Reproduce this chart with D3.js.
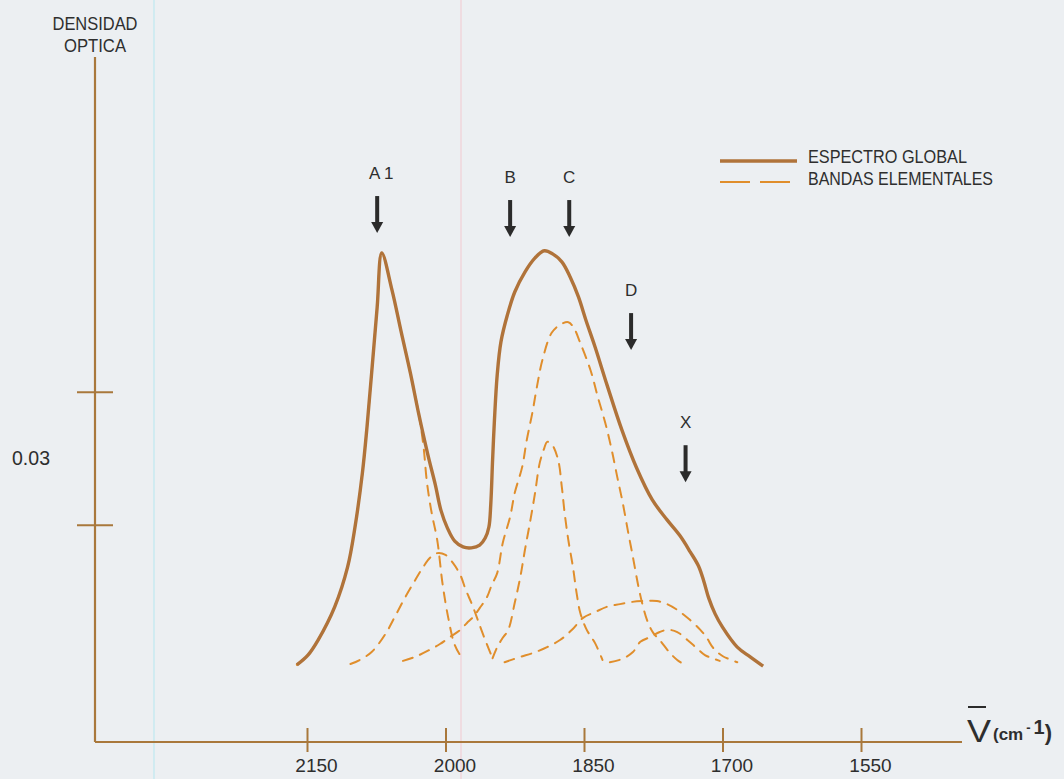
<!DOCTYPE html>
<html>
<head>
<meta charset="utf-8">
<script src="https://cdn.jsdelivr.net/npm/d3@7"></script>
<style>
  html, body { margin: 0; padding: 0; background: #eceff2; }
  svg { display: block; }
  text { font-family: 'Liberation Sans', Arial, sans-serif; fill: #2e2e2e; }
</style>
</head>
<body>
<svg id="chart" width="1064" height="779"></svg>
<script>
const AXIS = '#a9783c';
const GLOBAL = '#b0733a';
const BAND = '#e08e2c';
const INK = '#2b2b2b';

// x axis: wavenumber (cm-1); y axis: two unlabelled ticks 0.03 apart
const xTicks = [2150, 2000, 1850, 1700, 1550];
const yTicks = [0.049, 0.079];

// [wavenumber, optical density]
const globalSpectrum = [
  [2161, 0.0174], [2149, 0.0196], [2138, 0.0230], [2120, 0.0305], [2106, 0.0395],
  [2098, 0.0485], [2090, 0.0607], [2085, 0.0711], [2080, 0.0832], [2074, 0.0981],
  [2069, 0.1103], [2058, 0.1020], [2048, 0.0925], [2038, 0.0832], [2029, 0.0740],
  [2019, 0.0647], [2011, 0.0580], [2005, 0.0523], [1998, 0.0483], [1990, 0.0453],
  [1981, 0.0440], [1972, 0.0438], [1963, 0.0444], [1957, 0.0460], [1953, 0.0485],
  [1951, 0.0535], [1949, 0.0636], [1947, 0.0726], [1944, 0.0828], [1940, 0.0902],
  [1933, 0.0963], [1925, 0.1015], [1914, 0.1060], [1903, 0.1092], [1893, 0.1108],
  [1884, 0.1101], [1874, 0.1083], [1865, 0.1049], [1856, 0.1004], [1848, 0.0952],
  [1838, 0.0891], [1825, 0.0805], [1809, 0.0704], [1793, 0.0618], [1776, 0.0546],
  [1760, 0.0501], [1746, 0.0465], [1735, 0.0429], [1726, 0.0397], [1720, 0.0361],
  [1715, 0.0325], [1708, 0.0289], [1700, 0.0259], [1684, 0.0214], [1670, 0.0192],
  [1656, 0.0171],
];

const bandA1 = [
  [2161, 0.0174], [2149, 0.0196], [2138, 0.0230], [2120, 0.0305], [2106, 0.0395],
  [2098, 0.0485], [2090, 0.0607], [2085, 0.0711], [2080, 0.0832], [2074, 0.0981],
  [2069, 0.1103], [2058, 0.1020], [2048, 0.0925], [2038, 0.0832], [2029, 0.0740],
  [2024, 0.0670], [2020, 0.0584], [2015, 0.0517], [2009, 0.0456], [2003, 0.0354],
  [1997, 0.0280], [1990, 0.0219], [1981, 0.0185],
];

const bandSmall = [
  [2103, 0.0176], [2093, 0.0185], [2080, 0.0203], [2065, 0.0244], [2054, 0.0286],
  [2044, 0.0325], [2034, 0.0361], [2025, 0.0392], [2017, 0.0415], [2009, 0.0426],
  [2000, 0.0422], [1992, 0.0404], [1984, 0.0377], [1978, 0.0343], [1971, 0.0309],
  [1965, 0.0275], [1957, 0.0230], [1949, 0.0189],
];

const bandB = [
  [1949, 0.0189], [1944, 0.0214], [1938, 0.0235], [1932, 0.0253], [1925, 0.0314],
  [1919, 0.0372], [1914, 0.0433], [1908, 0.0501], [1903, 0.0562], [1898, 0.0629],
  [1893, 0.0663], [1890, 0.0677], [1885, 0.0672], [1878, 0.0636], [1874, 0.0575],
  [1871, 0.0517], [1867, 0.0456], [1862, 0.0395], [1858, 0.0336], [1854, 0.0291],
  [1847, 0.0253], [1838, 0.0223], [1830, 0.0185],
];

const bandC = [
  [2046, 0.0183], [2033, 0.0192], [2017, 0.0208], [2006, 0.0221], [1995, 0.0237],
  [1984, 0.0253], [1977, 0.0268], [1970, 0.0282], [1963, 0.0302], [1955, 0.0327],
  [1950, 0.0354], [1944, 0.0381], [1938, 0.0449], [1930, 0.0508], [1925, 0.0562],
  [1917, 0.0620], [1912, 0.0681], [1906, 0.0742], [1901, 0.0801], [1895, 0.0862],
  [1885, 0.0923], [1876, 0.0941], [1867, 0.0947], [1861, 0.0934], [1854, 0.0900],
  [1843, 0.0839], [1835, 0.0778], [1827, 0.0720], [1820, 0.0659], [1814, 0.0598],
  [1808, 0.0539], [1802, 0.0471], [1797, 0.0417], [1791, 0.0350], [1786, 0.0305],
  [1781, 0.0271], [1775, 0.0246], [1768, 0.0230], [1757, 0.0201], [1749, 0.0185],
  [1744, 0.0178],
];

const bandD = [
  [1936, 0.0180], [1919, 0.0192], [1905, 0.0201], [1890, 0.0214], [1876, 0.0230],
  [1863, 0.0253], [1851, 0.0280], [1838, 0.0293], [1825, 0.0305], [1811, 0.0311],
  [1798, 0.0316], [1784, 0.0318], [1771, 0.0318], [1760, 0.0311], [1749, 0.0298],
  [1735, 0.0275], [1724, 0.0253], [1717, 0.0235], [1710, 0.0212], [1700, 0.0194],
  [1684, 0.0180],
];

const bandX = [
  [1822, 0.0180], [1809, 0.0187], [1797, 0.0203], [1789, 0.0226], [1778, 0.0237],
  [1768, 0.0248], [1759, 0.0253], [1749, 0.0248], [1738, 0.0230], [1728, 0.0212],
  [1719, 0.0196], [1711, 0.0189], [1703, 0.0183],
];

const bands = [bandA1, bandSmall, bandB, bandC, bandD, bandX];

const peakLabels = ['A 1', 'B', 'C', 'D', 'X'];
const peakWavenumbers = [2074, 1930, 1866, 1799, 1740];
const peakArrowTips = [0.1148, 0.1139, 0.1139, 0.0884, 0.0586];

const legendLabels = ['ESPECTRO GLOBAL', 'BANDAS ELEMENTALES'];

const svg = d3.select('#chart');

const axisX0 = 95;
const axisX1 = 962;
const axisYTop = 57;

const xScale = d3.scaleLinear()
  .domain([2150, 1550])
  .range([307, 861]);

const yScale = d3.scaleLinear()
  .domain([0, 0.03])
  .range([742, 609]);

const baseY = yScale(0);

// scan artefacts: faint coloured vertical streaks
svg.append('line')
  .attr('x1', 154).attr('x2', 154).attr('y1', 0).attr('y2', 779)
  .attr('stroke', '#bfe8f0').attr('stroke-width', 1.2);
svg.append('line')
  .attr('x1', 461).attr('x2', 461).attr('y1', 0).attr('y2', 779)
  .attr('stroke', '#f2cfd6').attr('stroke-width', 1.2);

// axis lines
svg.append('line')
  .attr('x1', axisX0).attr('x2', axisX1)
  .attr('y1', baseY).attr('y2', baseY)
  .attr('stroke', AXIS).attr('stroke-width', 2.2);
svg.append('line')
  .attr('x1', axisX0).attr('x2', axisX0)
  .attr('y1', axisYTop).attr('y2', baseY)
  .attr('stroke', AXIS).attr('stroke-width', 2.2);

// x ticks + labels
const xAxisEl = svg.append('g')
  .attr('transform', `translate(0, ${baseY})`)
  .call(d3.axisBottom(xScale).tickValues(xTicks).tickFormat(d3.format('d')));
xAxisEl.attr('font-family', null).attr('font-size', null);
xAxisEl.select('.domain').remove();
xAxisEl.selectAll('.tick line')
  .attr('y1', -14).attr('y2', 10)
  .attr('stroke', AXIS).attr('stroke-width', 2);
xAxisEl.selectAll('.tick text')
  .attr('y', 30).attr('dy', null).attr('x', 9)
  .attr('fill', null)
  .style('font-size', '19px');

// y ticks (no labels)
const yAxisEl = svg.append('g')
  .attr('transform', `translate(${axisX0}, 0)`)
  .call(d3.axisLeft(yScale).tickValues(yTicks).tickFormat(''));
yAxisEl.select('.domain').remove();
yAxisEl.selectAll('.tick line')
  .attr('x1', -18).attr('x2', 18)
  .attr('stroke', AXIS).attr('stroke-width', 2);

// 0.03 between the two ticks
svg.append('text')
  .attr('x', 12)
  .attr('y', (yScale(yTicks[0]) + yScale(yTicks[1])) / 2 + 7)
  .style('font-size', '20px')
  .attr('textLength', 38)
  .attr('lengthAdjust', 'spacingAndGlyphs')
  .text('0.03');

// y title
svg.append('text')
  .attr('x', axisX0).attr('y', 30)
  .attr('text-anchor', 'middle')
  .style('font-size', '18px')
  .attr('textLength', 85)
  .attr('lengthAdjust', 'spacingAndGlyphs')
  .text('DENSIDAD');
svg.append('text')
  .attr('x', axisX0).attr('y', 52)
  .attr('text-anchor', 'middle')
  .style('font-size', '18px')
  .attr('textLength', 62)
  .attr('lengthAdjust', 'spacingAndGlyphs')
  .text('OPTICA');

// x title: wavenumber symbol with bar, (cm-1)
const xTitle = svg.append('g');
xTitle.append('text')
  .attr('x', 967).attr('y', 742)
  .style('font-size', '32px')
  .attr('textLength', 24)
  .attr('lengthAdjust', 'spacingAndGlyphs')
  .text('V');
xTitle.append('line')
  .attr('x1', 968).attr('x2', 986).attr('y1', 707).attr('y2', 707)
  .attr('stroke', INK).attr('stroke-width', 2);
const unit = xTitle.append('text')
  .attr('x', 993).attr('y', 740)
  .style('font-size', '17px')
  .style('font-weight', 'bold');
unit.append('tspan').text('(cm');
unit.append('tspan').attr('dx', 3).attr('dy', -8).style('font-size', '13px').text('-');
unit.append('tspan').attr('dx', 3).attr('dy', 2).style('font-size', '20px').text('1');
unit.append('tspan').attr('dy', 6).style('font-size', '22px').text(')');

// curves
const line = d3.line()
  .x(d => xScale(d[0]))
  .y(d => yScale(d[1]))
  .curve(d3.curveCatmullRom.alpha(0.5));

svg.append('g')
  .selectAll('path')
  .data(bands)
  .enter()
  .append('path')
  .attr('d', line)
  .attr('fill', 'none')
  .attr('stroke', BAND)
  .attr('stroke-width', 2)
  .attr('stroke-dasharray', '10,8')
  .attr('stroke-linecap', 'round');

svg.append('path')
  .datum(globalSpectrum)
  .attr('d', line)
  .attr('fill', 'none')
  .attr('stroke', GLOBAL)
  .attr('stroke-width', 3.4)
  .attr('stroke-linejoin', 'round');

// peak arrows
const arrows = svg.selectAll('.peak')
  .data(peakLabels)
  .enter()
  .append('g')
  .attr('class', 'peak');

arrows.append('line')
  .attr('x1', (d, i) => xScale(peakWavenumbers[i]))
  .attr('x2', (d, i) => xScale(peakWavenumbers[i]))
  .attr('y1', (d, i) => yScale(peakArrowTips[i]) - 37)
  .attr('y2', (d, i) => yScale(peakArrowTips[i]) - 9)
  .attr('stroke', INK)
  .attr('stroke-width', 4);

arrows.append('path')
  .attr('d', (d, i) => {
    const x = xScale(peakWavenumbers[i]);
    const y = yScale(peakArrowTips[i]);
    return `M${x - 6},${y - 11}L${x + 6},${y - 11}L${x},${y}Z`;
  })
  .attr('fill', INK);

arrows.append('text')
  .attr('x', (d, i) => xScale(peakWavenumbers[i]) + (i === 0 ? 4 : 0))
  .attr('y', (d, i) => yScale(peakArrowTips[i]) - 54)
  .attr('text-anchor', 'middle')
  .style('font-size', '17px')
  .text(d => d);

// legend
const legend = svg.append('g');
legend.append('line')
  .attr('x1', 720).attr('x2', 797).attr('y1', 161).attr('y2', 161)
  .attr('stroke', GLOBAL).attr('stroke-width', 3.4);
legend.append('line')
  .attr('x1', 720).attr('x2', 790).attr('y1', 182).attr('y2', 182)
  .attr('stroke', BAND).attr('stroke-width', 2)
  .attr('stroke-dasharray', '30,10');
legend.selectAll('text')
  .data(legendLabels)
  .enter()
  .append('text')
  .attr('x', 808)
  .attr('y', (d, i) => 163 + i * 22)
  .style('font-size', '18px')
  .attr('textLength', (d, i) => [159, 185][i])
  .attr('lengthAdjust', 'spacingAndGlyphs')
  .text(d => d);
</script>
</body>
</html>
